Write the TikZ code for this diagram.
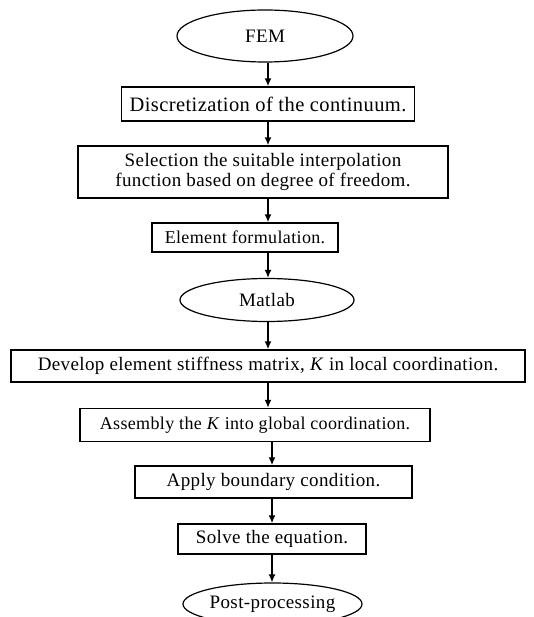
\documentclass[tikz,border=0pt]{standalone}
\usepackage{fontspec}
\setmainfont[LetterSpace=2]{Liberation Serif}
\usetikzlibrary{shapes.geometric,arrows.meta}
\begin{document}
\begin{tikzpicture}[x=1pt,y=-1pt,
  every node/.style={font=\fontsize{19}{20.5}\selectfont, inner sep=0pt, align=center},
  small/.style={font=\fontsize{18}{20}\selectfont},
  large/.style={font=\fontsize{20.5}{22}\selectfont},
  box/.style={draw, line width=1.4pt, rectangle},
  oval/.style={draw, line width=1.2pt, ellipse},
  arr/.style={line width=1.5pt, -{Latex[length=8pt,width=7pt]}}]
\clip (0,0) rectangle (533,617);
\node[oval, minimum width=176pt, minimum height=52pt] (fem) at (265,36) {FEM};
\node[box, large, minimum width=293pt, minimum height=34pt] (b1) at (268,104) {Discretization of the continuum.};
\node[box, minimum width=370pt, minimum height=52pt] (b2) at (263,172) {Selection the suitable interpolation\\function based on degree of freedom.};
\node[box, small, minimum width=186pt, minimum height=29pt] (b3) at (245,237.5) {Element formulation.};
\node[oval, minimum width=174pt, minimum height=43pt] (mat) at (267,300) {Matlab};
\node[box, minimum width=514pt, minimum height=32pt] (b4) at (268,366) {Develop element stiffness matrix, \textit{K} in local coordination.};
\node[box, small, minimum width=350pt, minimum height=33pt] (b5) at (255,425) {Assembly the \textit{K} into global coordination.};
\node[box, minimum width=277pt, minimum height=32pt] (b6) at (273.5,482) {Apply boundary condition.};
\node[box, minimum width=188pt, minimum height=30pt] (b7) at (272,539) {Solve the equation.};
\node[oval, minimum width=179pt, minimum height=42pt] (post) at (272.5,604) {Post-processing};
\draw[arr] (b1.north |- fem.south) -- (b1.north);
\draw[arr] (b1.south) -- (b1.south |- b2.north);
\draw[arr] (b2.south -| b1.south) -- (b3.north -| b1.south);
\draw[arr] (b3.south -| b1.south) -- (mat.north -| b1.south);
\draw[arr] (mat.south -| b4.north) -- (b4.north);
\draw[arr] (b4.south) -- (b4.south |- b5.north);
\draw[arr] (b5.south -| b7.north) -- (b6.north -| b7.north);
\draw[arr] (b6.south -| b7.north) -- (b7.north);
\draw[arr] (b7.south) -- (b7.south |- post.north);
\end{tikzpicture}
\end{document}
